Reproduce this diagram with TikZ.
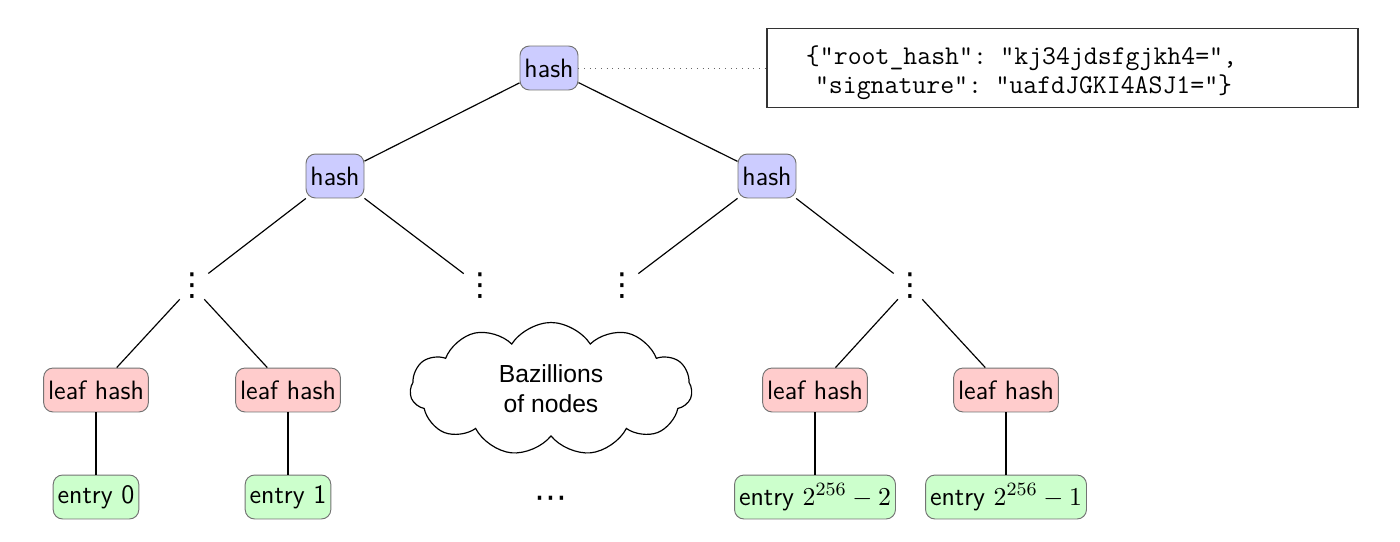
\documentclass[tikz,border=0pt]{standalone}
\usepackage{fontspec}
\newfontfamily\arialfont{Liberation Sans}
\newfontfamily\dejavufont{DejaVu Sans}
\usetikzlibrary{shapes.symbols}
\begin{document}
\begin{tikzpicture}[x=0.4255pt,y=-0.4255pt,
  treebox/.style={draw=black!55, rounded corners=4pt, font=\sffamily\fontsize{11.3}{13}\selectfont,
    minimum height=18.7pt, inner xsep=1.9pt, inner ysep=0pt},
  hashbox/.style={treebox, fill=blue!20},
  leafbox/.style={treebox, fill=red!20},
  entrybox/.style={treebox, fill=green!20},
  dotsnode/.style={inner sep=0pt, minimum width=11pt, minimum height=10pt, font=\dejavufont\fontsize{13.5}{13.5}\selectfont},
  edge/.style={draw=black, line width=0.5pt}]
\useasboundingbox (0,0) rectangle (1400,541);
% nodes
\node[hashbox] (root) at (549,68) {hash};
\node[draw=black!80, line width=0.5pt, text width=218.3pt, inner xsep=16.6pt, minimum height=32.3pt,
  align=left, font=\ttfamily\fontsize{11.5}{12.6}\selectfont] (json) at (1062.5,68)
  {\rule{0pt}{12pt}\{"root\_hash": "kj34jdsfgjkh4=",\\\ "signature": "uafdJGKI4ASJ1="\}};
\node[hashbox] (hl) at (335,176) {hash};
\node[hashbox] (hr) at (767,176) {hash};
\node[dotsnode] (d1) at (192,286) {⋮};
\node[dotsnode] (d2) at (480,286) {⋮};
\node[dotsnode] (d3) at (622,286) {⋮};
\node[dotsnode] (d4) at (910,286) {⋮};
\node[leafbox] (l1) at (96,390) {leaf hash};
\node[leafbox] (l2) at (288,390) {leaf hash};
\node[leafbox] (l3) at (815,390) {leaf hash};
\node[leafbox] (l4) at (1006,390) {leaf hash};
\node[entrybox] (e1) at (96,497) {entry 0};
\node[entrybox] (e2) at (288,497) {entry 1};
\node[entrybox] (e3) at (815,497) {entry $2^{256}-2$};
\node[entrybox] (e4) at (1006,497) {entry $2^{256}-1$};
\node[draw=black, line width=0.5pt, cloud, cloud puffs=11, cloud puff arc=115, aspect=2.1,
  minimum width=120pt, minimum height=56.6pt, inner sep=0pt, align=center,
  font=\arialfont\fontsize{10.5}{12.8}\selectfont] (cloud) at (551,389) {Bazillions\\of nodes};
\node[font=\dejavufont\fontsize{14}{14}\selectfont] (cdots) at (551,502) {⋯};
% connectors
\draw[black!60, dotted, line width=0.4pt] (root) -- (json);
\draw[edge] (root) -- (hl);
\draw[edge] (root) -- (hr);
\draw[edge] (hl) -- (d1);
\draw[edge] (hl) -- (d2);
\draw[edge] (hr) -- (d3);
\draw[edge] (hr) -- (d4);
\draw[edge] (d1) -- (l1);
\draw[edge] (d1) -- (l2);
\draw[edge] (d4) -- (l3);
\draw[edge] (d4) -- (l4);
\draw[edge] (l1) -- (e1);
\draw[edge] (l2) -- (e2);
\draw[edge] (l3) -- (e3);
\draw[edge] (l4) -- (e4);
\end{tikzpicture}
\end{document}
